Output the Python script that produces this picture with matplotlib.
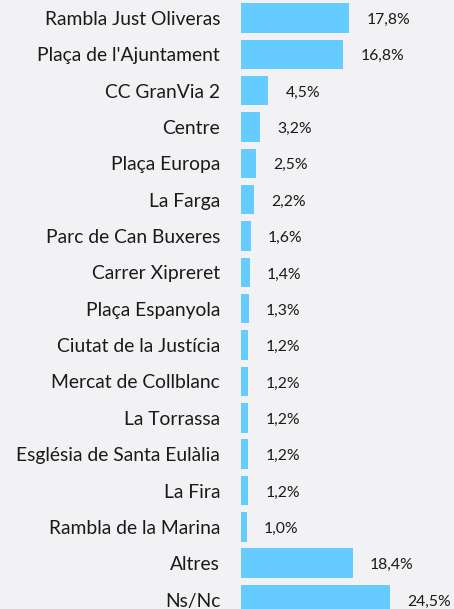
import matplotlib
matplotlib.use('Agg')
import matplotlib.pyplot as plt

categories = ['Rambla Just Oliveras', "Plaça de l'Ajuntament", 'CC GranVia 2', 'Centre',
              'Plaça Europa', 'La Farga', 'Parc de Can Buxeres', 'Carrer Xipreret',
              'Plaça Espanyola', 'Ciutat de la Justícia', 'Mercat de Collblanc',
              'La Torrassa', 'Església de Santa Eulàlia', 'La Fira', 'Rambla de la Marina',
              'Altres', 'Ns/Nc']
values = [17.8, 16.8, 4.5, 3.2, 2.5, 2.2, 1.6, 1.4, 1.3, 1.2, 1.2, 1.2, 1.2, 1.2, 1.0, 18.4, 24.5]

bg = '#f2f2f4'
fig = plt.figure(figsize=(4.54, 6.09), dpi=100)
fig.set_facecolor(bg)
ax = fig.add_axes([241/454, 0, 213/454, 1])
ax.set_facecolor(bg)

pos = list(range(len(categories)))
ax.barh(pos, values, height=0.81, color='#66ccff')

for p, v in zip(pos, values):
    ax.annotate(f'{v:.1f}'.replace('.', ',') + '%', (v, p), xytext=(17, -2),
                textcoords='offset pixels', va='center', ha='left',
                fontsize=11.3, family='Lato', color='#1a1a1a')

ax.set_yticks(pos)
ax.set_yticklabels(categories, fontsize=13.9, family='Lato', color='#1a1a1a')
ax.tick_params(axis='y', length=0, pad=15)
ax.set_xticks([])
ax.set_xlim(0, 35.0)
ax.set_ylim(16.26, -0.495)
for s in ax.spines.values():
    s.set_visible(False)

plt.savefig('out.png', dpi=100, facecolor=bg)
